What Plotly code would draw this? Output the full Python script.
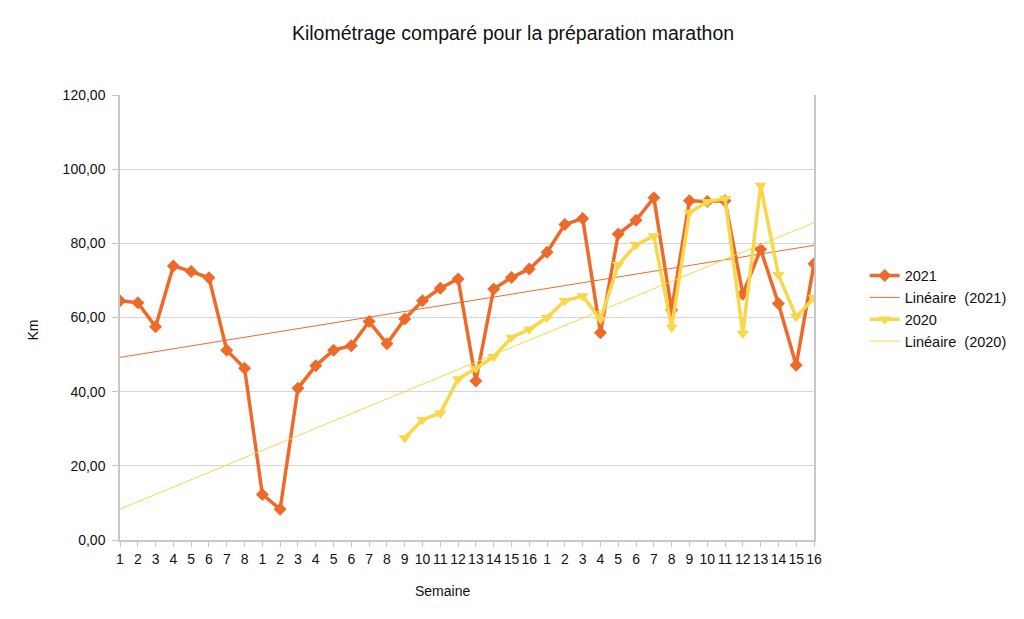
import numpy as np
import plotly.graph_objects as go

# week labels: 8 + 16 + 16 weeks
weeks = [str(i) for i in range(1, 9)] + [str(i) for i in range(1, 17)] + [str(i) for i in range(1, 17)]

km_2021 = [64.5, 64.0, 57.5, 73.9, 72.4, 70.7, 51.2, 46.3,
           12.3, 8.3, 40.9, 47.0, 51.2, 52.4, 58.9, 52.9,
           59.6, 64.5, 67.9, 70.4, 42.9, 67.7, 70.8, 73.1,
           77.6, 85.1, 86.7, 55.9, 82.5, 86.2, 92.3, 62.0,
           91.5, 91.3, 91.5, 66.3, 78.4, 63.8, 47.1, 74.5]

km_2020 = [None] * 16 + [27.5, 32.4, 34.2, 43.4, 46.3, 49.4, 54.6, 56.8,
                         60.0, 64.5, 65.8, 59.5, 74.2, 79.6, 82.0, 57.3,
                         88.3, 91.2, 92.1, 55.7, 95.6, 71.5, 60.2, 65.3]

ORANGE = '#ee6a2b'
YELLOW = '#f8d84a'
FONT = 'Liberation Sans, Arial, sans-serif'

W, H = 1016, 611   # page body keeps an 8px margin
x = np.arange(len(weeks))


def trend(values):
    """linear trend over the points that have a value"""
    pts = [(i, v) for i, v in zip(x, values) if v is not None]
    xs = np.array([p[0] for p in pts])
    ys = np.array([p[1] for p in pts])
    a, b = np.polyfit(xs, ys, 1)
    return a * x + b


fig = go.Figure()
fig.add_trace(go.Scatter(x=x, y=km_2021, name='2021', mode='lines+markers',
                         line=dict(color=ORANGE, width=3.5),
                         marker=dict(symbol='diamond', size=10, color=ORANGE)))
fig.add_trace(go.Scatter(x=x, y=trend(km_2021), name='Linéaire  (2021)', mode='lines',
                         line=dict(color=ORANGE, width=1)))
fig.add_trace(go.Scatter(x=x, y=km_2020, name='2020', mode='lines+markers',
                         line=dict(color=YELLOW, width=3.5),
                         marker=dict(symbol='triangle-down', size=11, color=YELLOW)))
fig.add_trace(go.Scatter(x=x, y=trend(km_2020), name='Linéaire  (2020)', mode='lines',
                         line=dict(color=YELLOW, width=1)))

fig.update_layout(
    width=W, height=H,
    margin=dict(l=112, r=208, t=87, b=79),
    paper_bgcolor='white', plot_bgcolor='white',
    font=dict(family=FONT, size=14, color='#222'),
    separators=', ',
    title=dict(text='Kilométrage comparé pour la préparation marathon',
               x=505 / W, xref='container', xanchor='center', y=1 - 25 / H, yanchor='middle',
               font=dict(size=19.5, color='#111')),
    showlegend=True,
    legend=dict(x=1.073, y=0.52, xanchor='left', yanchor='middle',
                font=dict(size=14.5, color='#111'), tracegroupgap=0,
                bgcolor='rgba(0,0,0,0)'),
    annotations=[
        dict(text='Semaine', x=0.464, y=-0.115, xref='paper', yref='paper',
             showarrow=False, font=dict(size=14, color='#111'), yanchor='middle'),
        dict(text='Km', x=-0.126, y=0.472, xref='paper', yref='paper',
             showarrow=False, textangle=-90, font=dict(size=14, color='#111'), xanchor='center'),
    ],
)

fig.update_xaxes(range=[0, len(weeks) - 1], tickmode='array', tickvals=x, ticktext=weeks,
                 showgrid=False, showline=True, linecolor='#c8c8c8', linewidth=1.5,
                 ticks='outside', ticklen=5, tickcolor='#c8c8c8', tickangle=0,
                 tickfont=dict(size=14, color='#111'), zeroline=False)
fig.update_yaxes(range=[0, 120], dtick=20, tickformat='.2f',
                 showgrid=True, gridcolor='#d6d6d6', gridwidth=1,
                 showline=True, linecolor='#c8c8c8', linewidth=1.5, mirror=True,
                 ticks='outside', ticklen=6, tickcolor='#c8c8c8', ticklabelstandoff=4,
                 tickfont=dict(size=14, color='#111'), zeroline=False)

fig.write_html("out.html")
